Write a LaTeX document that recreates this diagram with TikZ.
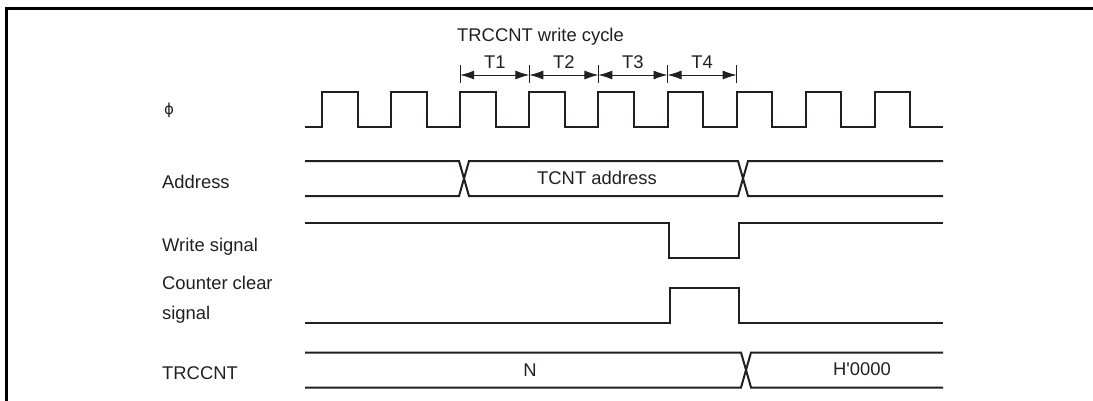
\documentclass[tikz,border=0pt]{standalone}
\usepackage{fontspec}
\setmainfont{Liberation Sans}[Ligatures=TeXOff]
\newfontfamily\dejavu{DejaVu Sans}
\usetikzlibrary{arrows.meta}
\definecolor{ink}{HTML}{231F20}
\begin{document}
\begin{tikzpicture}[x=1pt,y=-1pt,
  sig/.style={draw=ink, line width=2pt, line join=miter},
  lbl/.style={anchor=west, inner sep=0pt, text=ink, font=\fontsize{18.4}{30}\selectfont, align=left},
  txt/.style={inner sep=0pt, text=ink, font=\fontsize{18.4}{22}\selectfont},
  tickline/.style={draw=ink, line width=0.9pt},
  dimline/.style={draw=ink, line width=0.9pt, {Latex[length=14pt,width=9pt]}-{Latex[length=14pt,width=9pt]}},
  frameline/.style={draw=black, line width=2.5pt}]
\useasboundingbox (0,0) rectangle (1093,400);
% frame
\draw[frameline] (6.5,410) -- (6.5,8.5) -- (1100,8.5);
% labels
\node[inner sep=0pt, text=ink, font=\dejavu\fontsize{15}{15}\selectfont] (lphi) at (169,110) {ϕ};
\node[lbl] (laddr) at (162,182) {Address};
\node[lbl] (lwr) at (162,247) {Write signal};
\node[lbl] (lclr) at (162,300) {Counter clear\\signal};
\node[lbl] (ltrc) at (162,373) {TRCCNT};
% title and T intervals
\node[txt, anchor=west] (title) at (457,37) {TRCCNT write cycle};
\foreach \i/\x in {0/460.2,1/529.3,2/598.4,3/667.5,4/736.6}{
  \coordinate (c\i) at (\x,75);
  \draw[tickline] (\x,65) -- (\x,83);
}
\draw[dimline] (c0) -- (c1);
\draw[dimline] (c1) -- (c2);
\draw[dimline] (c2) -- (c3);
\draw[dimline] (c3) -- (c4);
\node[txt] (t1) at (494.75,62) {T1};
\node[txt] (t2) at (563.85,62) {T2};
\node[txt] (t3) at (632.95,62) {T3};
\node[txt] (t4) at (702.05,62) {T4};
% clock
\draw[sig] (305,127) -- (322,127) -- (322,92) -- (357.5,92) -- (357.5,127)
  -- (391.1,127) -- (391.1,92) -- (426.6,92) -- (426.6,127)
  -- (460.2,127) -- (460.2,92) -- (495.7,92) -- (495.7,127)
  -- (529.3,127) -- (529.3,92) -- (564.8,92) -- (564.8,127)
  -- (598.4,127) -- (598.4,92) -- (633.9,92) -- (633.9,127)
  -- (667.5,127) -- (667.5,92) -- (703,92) -- (703,127)
  -- (736.6,127) -- (736.6,92) -- (772.1,92) -- (772.1,127)
  -- (805.7,127) -- (805.7,92) -- (841.2,92) -- (841.2,127)
  -- (874.8,127) -- (874.8,92) -- (910.3,92) -- (910.3,127) -- (943,127);
% address bus
\draw[sig] (305,161) -- (459,161) -- (469,196) -- (738,196) -- (748,161) -- (943,161);
\draw[sig] (305,196) -- (459,196) -- (469,161) -- (738,161) -- (748,196) -- (943,196);
\node[txt] (taddr) at (597,178) {TCNT address};
% write signal
\draw[sig] (305,223) -- (669,223) -- (669,258) -- (739,258) -- (739,223) -- (943,223);
% counter clear
\draw[sig] (305,322.5) -- (669.5,322.5) -- (669.5,288) -- (739,288) -- (739,322.5) -- (943,322.5);
% TRCCNT
\draw[sig] (305,352.5) -- (741,352.5) -- (751,387.5) -- (943,387.5);
\draw[sig] (305,387.5) -- (741,387.5) -- (751,352.5) -- (943,352.5);
\node[txt] (tn) at (530,370) {N};
\node[txt] (th) at (862,369.5) {H'0000};
\end{tikzpicture}
\end{document}
